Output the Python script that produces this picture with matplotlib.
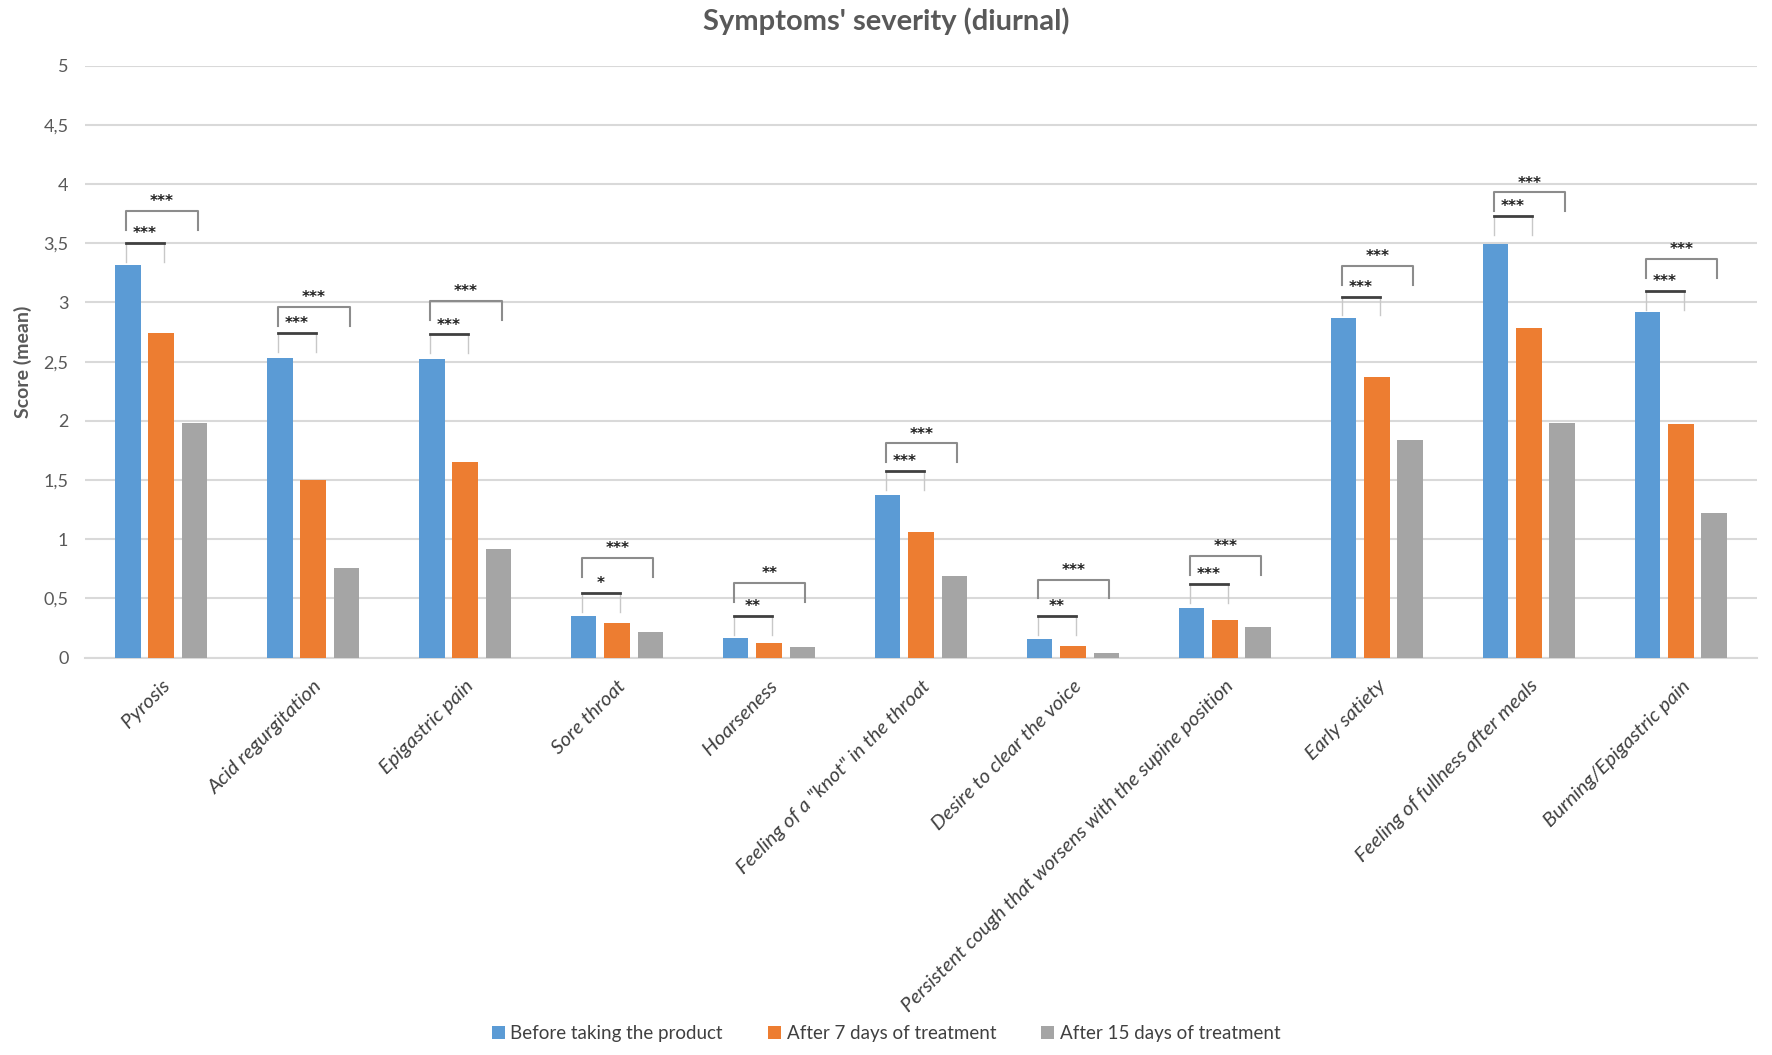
import matplotlib.pyplot as plt
import numpy as np

categories = ["Pyrosis", "Acid regurgitation", "Epigastric pain", "Sore throat", "Hoarseness",
              "Feeling of a \"knot\" in the throat", "Desire to clear the voice",
              "Persistent cough that worsens with the supine position", "Early satiety",
              "Feeling of fullness after meals", "Burning/Epigastric pain"]
before = [3.32, 2.53, 2.52, 0.35, 0.17, 1.37, 0.16, 0.42, 2.87, 3.49, 2.92]
after7 = [2.74, 1.50, 1.65, 0.29, 0.12, 1.06, 0.10, 0.32, 2.37, 2.78, 1.97]
after15 = [1.98, 0.76, 0.92, 0.22, 0.09, 0.69, 0.04, 0.26, 1.84, 1.98, 1.22]
series_names = ["Before taking the product", "After 7 days of treatment", "After 15 days of treatment"]

# significance brackets: blue vs orange (low) and blue vs gray (high)
low_level = [3.50, 2.74, 2.73, 0.55, 0.35, 1.58, 0.35, 0.62, 3.05, 3.73, 3.10]
high_level = [3.77, 2.96, 3.01, 0.84, 0.63, 1.81, 0.66, 0.86, 3.31, 3.93, 3.37]
low_stars = ["***", "***", "***", "*", "**", "***", "**", "***", "***", "***", "***"]
high_stars = ["***", "***", "***", "***", "**", "***", "***", "***", "***", "***", "***"]

yticks = [0, 0.5, 1, 1.5, 2, 2.5, 3, 3.5, 4, 4.5, 5]
ytick_labels = ["0", "0,5", "1", "1,5", "2", "2,5", "3", "3,5", "4", "4,5", "5"]

colors = ["#5B9BD5", "#ED7D31", "#A5A5A5"]
txt = "#595959"
plt.rcParams['font.family'] = ['Lato', 'DejaVu Sans']

fig = plt.figure(figsize=(17.72, 10.55), dpi=100)
ax = fig.add_axes([0.048, 0.3766, 0.9435, 0.5612])

x = np.arange(len(categories))
w = 0.17
step = 0.22
for i, vals in enumerate([before, after7, after15]):
    ax.bar(x + (i - 1) * step, vals, w, color=colors[i], label=series_names[i], zorder=3)

leg = 0.16
for i in range(len(categories)):
    xb = x[i] - step - 0.01
    xo = x[i] + 0.02
    xg = x[i] + step + 0.02
    # low bracket
    y = low_level[i]
    ax.plot([xb, xb], [y - leg, y], color="#c8c8c8", lw=1, zorder=4)
    ax.plot([xo, xo], [y - leg, y], color="#c8c8c8", lw=1, zorder=4)
    ax.plot([xb, xo], [y, y], color="#404040", lw=2, zorder=5)
    ax.text((xb + xo) / 2, y + 0.015, low_stars[i], ha="center", va="bottom",
            fontsize=11, fontweight="bold", family="DejaVu Sans", color="#202020", zorder=6)
    # high bracket
    y = high_level[i]
    ax.plot([xb, xb, xg, xg], [y - leg, y, y, y - leg], color="#8c8c8c", lw=1.5, zorder=5)
    ax.text((xb + xg) / 2, y + 0.015, high_stars[i], ha="center", va="bottom",
            fontsize=11, fontweight="bold", family="DejaVu Sans", color="#202020", zorder=6)

ax.set_xlim(-0.5, len(categories) - 0.5)
ax.set_ylim(0, 5)
ax.set_yticks(yticks)
ax.set_yticklabels(ytick_labels, fontsize=13, color=txt)
ax.grid(axis="y", color="#D9D9D9", lw=1.5, zorder=0)
ax.set_axisbelow(True)
for s in ["top", "right", "left"]:
    ax.spines[s].set_visible(False)
ax.spines["bottom"].set_color("#D9D9D9")
ax.spines["bottom"].set_linewidth(1.5)
ax.tick_params(axis="both", length=0, pad=12)

ax.set_xticks(x)
ax.set_xticklabels(categories, rotation=45, ha="right", rotation_mode="anchor",
                   fontsize=14.7, style="italic", color="#404040")
ax.tick_params(axis="x", pad=14)

ax.set_ylabel("Score (mean)", fontsize=14, fontweight="bold", color=txt, labelpad=8)
fig.suptitle("Symptoms' severity (diurnal)", fontsize=21, fontweight="bold", color=txt, y=0.993)

fig.legend(loc="center", bbox_to_anchor=(0.5, 0.02), ncol=3, frameon=False, fontsize=13.5,
           handlelength=0.7, handleheight=0.7, handletextpad=0.3, columnspacing=2.4,
           labelcolor="#404040")

fig.savefig("out.png", dpi=100)
